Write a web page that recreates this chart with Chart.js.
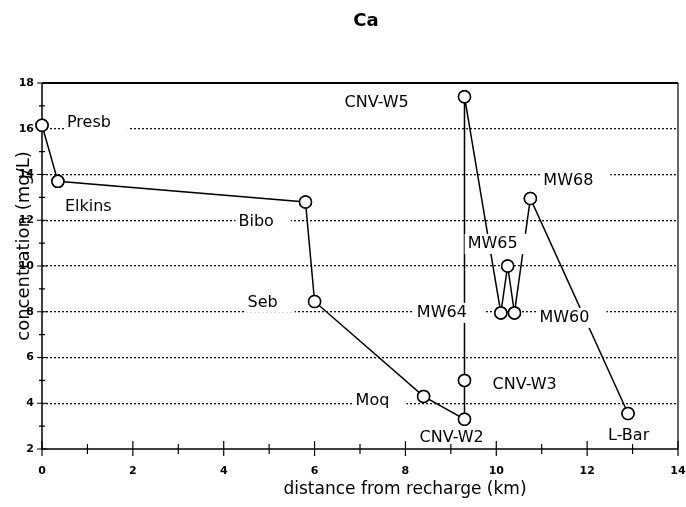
<!DOCTYPE html>
<html>
<head>
<meta charset="utf-8">
<script src="https://cdn.jsdelivr.net/npm/chart.js@4"></script>
<style>
  html, body { margin: 0; padding: 0; background: #fff; }
</style>
</head>
<body>
<canvas id="caChart" width="686" height="507"></canvas>
<script>
// sampling sites, in the order the line joins them
const sites = ['Presb', 'Elkins', 'Bibo', 'Seb', 'Moq', 'CNV-W2', 'CNV-W3', 'CNV-W5', 'MW64', 'MW65', 'MW60', 'MW68', 'L-Bar'];
const distKm = [0, 0.35, 5.8, 6.0, 8.4, 9.3, 9.3, 9.3, 10.1, 10.25, 10.4, 10.75, 12.9];
const caMgL = [16.15, 13.7, 12.8, 8.45, 4.3, 3.3, 5.0, 17.4, 7.95, 10.0, 7.95, 12.95, 3.55];

const xTicks = [0, 2, 4, 6, 8, 10, 12, 14];
const yTicks = [2, 4, 6, 8, 10, 12, 14, 16, 18];

// where each site name sits, px from its circle (left edge of text)
const labelOffsets = [[25, -2], [7, 25], [-67, 20], [-67, 1], [-68, 4], [-45, 19], [28, 4], [-120, 6], [-84, 0], [-40, -22], [25, 5], [13, -18], [-20, 22]];

const points = distKm.map((d, i) => ({ x: d, y: caMgL[i] }));

const annotate = {
  id: 'annotate',
  afterDatasetsDraw(chart) {
    const ctx = chart.ctx;
    const meta = chart.getDatasetMeta(0);
    const area = chart.chartArea;
    const xs = chart.scales.x, ys = chart.scales.y;

    // site names, on white boxes that break the lines behind them
    ctx.save();
    ctx.font = '16px "DejaVu Sans"';
    ctx.textAlign = 'left';
    ctx.textBaseline = 'middle';
    sites.forEach((name, i) => {
      const el = meta.data[i];
      const tx = el.x + labelOffsets[i][0];
      const ty = el.y + labelOffsets[i][1];
      const w = ctx.measureText(name).width;
      ctx.fillStyle = '#fff';
      ctx.fillRect(tx - 3, ty - 10, w + 20, 20);
      ctx.fillStyle = '#000';
      ctx.fillText(name, tx, ty);
    });
    ctx.restore();

    // frame
    ctx.save();
    ctx.strokeStyle = '#000';
    ctx.lineWidth = 1.5;
    ctx.beginPath();
    ctx.moveTo(area.left, area.top);
    ctx.lineTo(area.left, area.bottom);
    ctx.lineTo(area.right, area.bottom);
    ctx.stroke();
    ctx.lineWidth = 2;
    ctx.beginPath();
    ctx.moveTo(area.left, area.top);
    ctx.lineTo(area.right, area.top);
    ctx.stroke();
    ctx.lineWidth = 1.2;
    ctx.beginPath();
    ctx.moveTo(area.right, area.top);
    ctx.lineTo(area.right, area.bottom);
    ctx.stroke();

    // tick marks across the axes, every unit
    ctx.lineWidth = 1.2;
    ctx.beginPath();
    for (let v = xs.min; v <= xs.max; v++) {
      const px = xs.getPixelForValue(v);
      const major = v % 2 === 0;
      ctx.moveTo(px, area.bottom - (major ? 8 : 5));
      ctx.lineTo(px, area.bottom + (major ? 7 : 5));
    }
    for (let v = ys.min; v <= ys.max; v++) {
      const py = ys.getPixelForValue(v);
      const major = v % 2 === 0;
      ctx.moveTo(area.left - (major ? 5 : 3), py);
      ctx.lineTo(area.left + (major ? 5 : 3), py);
    }
    ctx.stroke();
    ctx.restore();

    // redraw circles so they sit on top of the frame
    meta.data.forEach(p => p.draw(ctx, undefined));
  },
  afterDraw(chart) {
    const ctx = chart.ctx;
    ctx.save();
    ctx.fillStyle = '#000';
    ctx.textAlign = 'center';
    ctx.textBaseline = 'middle';
    ctx.font = 'bold 18px "DejaVu Sans"';
    ctx.fillText('Ca', 366, 21);
    ctx.font = '17px "DejaVu Sans"';
    ctx.fillText('distance from recharge (km)', 405, 490);
    ctx.translate(24, 246);
    ctx.rotate(-Math.PI / 2);
    ctx.font = '18px "DejaVu Sans"';
    ctx.fillText('concentration (mg/L)', 0, 0);
    ctx.restore();
  }
};

new Chart(document.getElementById('caChart'), {
  type: 'scatter',
  data: {
    datasets: [{
      data: points,
      showLine: true,
      clip: false,
      borderColor: '#000',
      borderWidth: 1.5,
      pointRadius: 6,
      pointBorderWidth: 1.5,
      pointBorderColor: '#000',
      pointBackgroundColor: '#fff',
    }]
  },
  options: {
    responsive: false,
    animation: false,
    layout: { padding: { top: 83, right: 8, left: 0, bottom: 0 } },
    plugins: {
      legend: { display: false },
      tooltip: { enabled: false },
      title: { display: false }
    },
    scales: {
      x: {
        type: 'linear',
        min: 0,
        max: 14,
        afterBuildTicks: (scale) => { scale.ticks = xTicks.map(v => ({ value: v })); },
        afterFit: (scale) => {
          scale.height = 58;
          scale.paddingLeft = 0;
          scale.paddingRight = 0;
        },
        ticks: {
          color: '#000',
          padding: 16,
          maxRotation: 0,
          font: { family: 'DejaVu Sans', weight: 'bold', size: 11 }
        },
        grid: { display: false, drawTicks: false },
        border: { display: false }
      },
      y: {
        min: 2,
        max: 18,
        afterBuildTicks: (scale) => { scale.ticks = yTicks.map(v => ({ value: v })); },
        afterFit: (scale) => {
          scale.width = 42;
          scale.paddingTop = 0;
          scale.paddingBottom = 0;
        },
        ticks: {
          color: '#000',
          padding: 8,
          font: { family: 'DejaVu Sans', weight: 'bold', size: 11 }
        },
        grid: {
          drawTicks: false,
          lineWidth: 1.3,
          color: (c) => (c.tick && (c.tick.value === 2 || c.tick.value === 18)) ? 'rgba(0,0,0,0)' : '#111'
        },
        border: { display: false, dash: [2, 2] }
      }
    }
  },
  plugins: [annotate]
});
</script>
</body>
</html>
